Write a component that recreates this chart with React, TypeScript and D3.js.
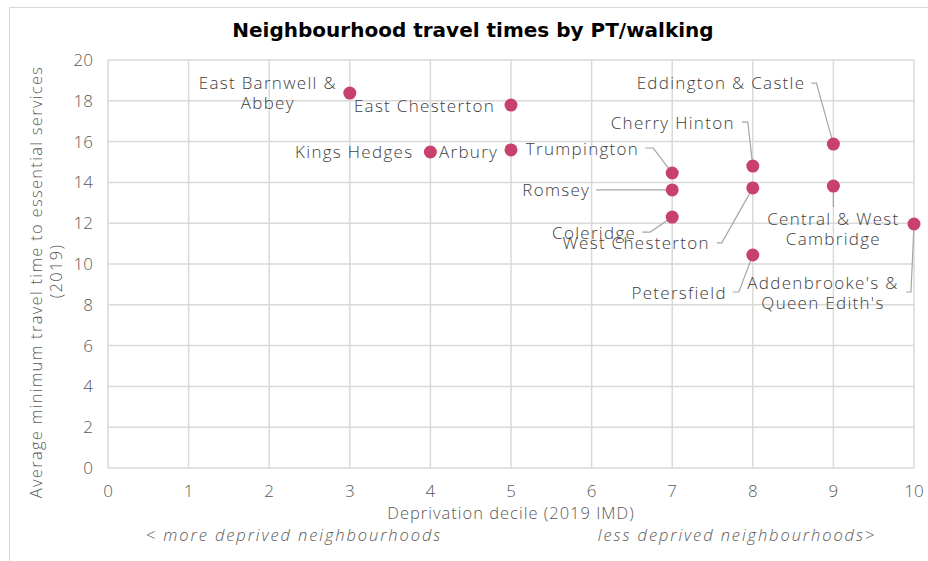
import React, { useEffect, useRef } from "react";
import * as d3 from "d3";

// neighbourhood data
const names = [
  "East Barnwell &\nAbbey",
  "East Chesterton",
  "Kings Hedges",
  "Arbury",
  "Trumpington",
  "Romsey",
  "Coleridge",
  "Cherry Hinton",
  "West Chesterton",
  "Petersfield",
  "Eddington & Castle",
  "Central & West\nCambridge",
  "Addenbrooke's &\nQueen Edith's",
];
const decile = [3, 5, 4, 5, 7, 7, 7, 8, 8, 8, 9, 9, 10];
const travelTime = [18.38, 17.79, 15.49, 15.59, 14.46, 13.63, 12.3, 14.8, 13.73, 10.44, 15.88, 13.82, 11.96];

const xTicks = [0, 1, 2, 3, 4, 5, 6, 7, 8, 9, 10];
const yTicks = [0, 2, 4, 6, 8, 10, 12, 14, 16, 18, 20];

// label placement relative to each dot (px): [dx, dy, anchor, leader points]
const labelPlacement: [number, number, string, number[][] | null][] = [
  [-82, -10, "middle", null],
  [-16, 1, "end", null],
  [-17, 0, "end", null],
  [-72, 2, "start", null],
  [-33, -24, "end", [[-27, -25], [-19, -25], [0, 0]]],
  [-82, 0, "end", [[-76, 0], [0, 0]]],
  [-36, 16, "end", [[-30, 15], [-22, 15], [0, 0]]],
  [-18, -43, "end", [[-11, -44], [-5, -44], [0, 0]]],
  [-43, 55, "end", [[-36, 55], [-31, 55], [0, 0]]],
  [-26, 38, "end", [[-20, 37], [-14, 37], [0, 0]]],
  [-28, -61, "end", [[-22, -61], [-17, -61], [0, 0]]],
  [0, 33, "middle", [[0, 0], [0, 21]]],
  [-91, 59, "middle", [[-8, 68], [-3, 68], [0, 0]]],
];

const W = 928;
const H = 561;
const FONT = "'Open Sans', sans-serif";
const TITLE_FONT = "'DejaVu Sans', sans-serif";

export default function App() {
  const ref = useRef<SVGSVGElement>(null);

  useEffect(() => {
    const svg = d3.select(ref.current);
    svg.selectAll("*").remove();

    const x = d3.scaleLinear().domain([0, 10]).range([108, 914]);
    const y = d3.scaleLinear().domain([0, 20]).range([468, 60]);

    // chart frame
    svg.append("rect")
      .attr("x", 9.5).attr("y", 7.5)
      .attr("width", W + 20).attr("height", H + 20)
      .attr("fill", "white").attr("stroke", "#d9d9d9");

    svg.append("text")
      .attr("x", 473).attr("y", 37)
      .attr("text-anchor", "middle")
      .attr("font-family", TITLE_FONT)
      .attr("font-weight", "bold")
      .attr("font-size", 20)
      .attr("fill", "#000")
      .text("Neighbourhood travel times by PT/walking");

    // grid
    const grid = svg.append("g").attr("stroke", "#d9d9d9").attr("stroke-width", 1.5);
    grid.selectAll("line.h").data(yTicks).join("line")
      .attr("x1", x(0)).attr("x2", x(10))
      .attr("y1", d => y(d)).attr("y2", d => y(d));
    grid.selectAll("line.v").data(xTicks).join("line")
      .attr("class", "v")
      .attr("y1", y(0)).attr("y2", y(20))
      .attr("x1", d => x(d)).attr("x2", d => x(d));

    const tick = svg.append("g")
      .attr("font-family", FONT)
      .attr("font-weight", 300)
      .attr("font-size", 17)
      .attr("fill", "#595959");
    tick.selectAll("text.y").data(yTicks).join("text")
      .attr("class", "y")
      .attr("x", 93).attr("y", d => y(d))
      .attr("dy", "0.35em")
      .attr("text-anchor", "end")
      .text(d => d);
    tick.selectAll("text.x").data(xTicks).join("text")
      .attr("class", "x")
      .attr("x", d => x(d)).attr("y", 497)
      .attr("text-anchor", "middle")
      .text(d => d);

    const axisText = svg.append("g")
      .attr("font-family", FONT)
      .attr("font-weight", 300)
      .attr("font-size", 16.5)
      .attr("fill", "#595959")
      .attr("text-anchor", "middle");
    axisText.append("text").attr("x", 511).attr("y", 519).attr("letter-spacing", 1)
      .text("Deprivation decile (2019 IMD)");
    axisText.append("text").attr("x", 294).attr("y", 541).attr("font-style", "italic")
      .attr("letter-spacing", 1.9)
      .text("< more deprived neighbourhoods");
    axisText.append("text").attr("x", 737).attr("y", 541).attr("font-style", "italic")
      .attr("letter-spacing", 1.9)
      .text("less deprived neighbourhoods>");
    axisText.append("text")
      .attr("transform", "translate(42,282) rotate(-90)")
      .attr("letter-spacing", 1.3)
      .text("Average minimum travel time to essential services");
    axisText.append("text")
      .attr("transform", "translate(62,271) rotate(-90)")
      .attr("letter-spacing", 1.3)
      .text("(2019)");

    const pts = names.map((n, i) => ({ n, cx: x(decile[i]), cy: y(travelTime[i]), p: labelPlacement[i] }));

    // leader lines
    const line = d3.line();
    svg.append("g")
      .attr("fill", "none")
      .attr("stroke", "#a6a6a6")
      .attr("stroke-width", 1.2)
      .selectAll("path")
      .data(pts.filter(d => d.p[3]))
      .join("path")
      .attr("d", d => line(d.p[3]!.map(([a, b]) => [d.cx + a, d.cy + b] as [number, number])));

    // labels
    svg.append("g")
      .attr("font-family", FONT)
      .attr("font-weight", 300)
      .attr("font-size", 17)
      .attr("letter-spacing", 1.3)
      .attr("fill", "#404040")
      .selectAll("text")
      .data(pts)
      .join("text")
      .attr("text-anchor", d => d.p[2])
      .each(function (d) {
        const lines = d.n.split("\n");
        d3.select(this).selectAll("tspan").data(lines).join("tspan")
          .attr("x", d.cx + d.p[0])
          .attr("y", (_, k) => d.cy + d.p[1] + k * 20)
          .attr("dy", "0.35em")
          .text(t => t);
      });

    svg.append("g")
      .attr("fill", "#c8416c")
      .selectAll("circle")
      .data(pts)
      .join("circle")
      .attr("cx", d => d.cx)
      .attr("cy", d => d.cy)
      .attr("r", 6.5);
  }, []);

  return (
    <svg ref={ref} width={W} height={H}
      style={{ position: "absolute", left: 0, top: 0, background: "white" }} />
  );
}
